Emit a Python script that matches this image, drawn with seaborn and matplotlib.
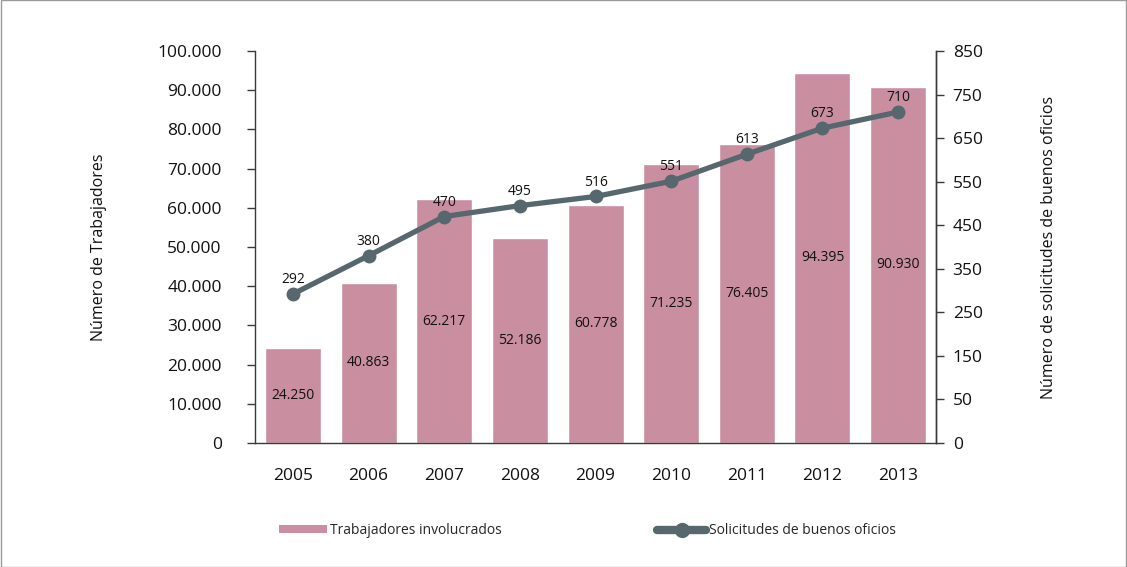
import numpy as np
import pandas as pd
import matplotlib
matplotlib.use("Agg")
import matplotlib.pyplot as plt
import seaborn as sns
from matplotlib.patches import Patch
from matplotlib.lines import Line2D

years = ["2005", "2006", "2007", "2008", "2009", "2010", "2011", "2012", "2013"]
trabajadores = [24250, 40863, 62217, 52186, 60778, 71235, 76405, 94395, 90930]
solicitudes = [292, 380, 470, 495, 516, 551, 613, 673, 710]
left_ticks = [0, 10000, 20000, 30000, 40000, 50000, 60000, 70000, 80000, 90000, 100000]
right_ticks = [-50, 50, 150, 250, 350, 450, 550, 650, 750, 850]
right_tick_labels = ["0", "50", "150", "250", "350", "450", "550", "650", "750", "850"]

bar_color = "#c98fa1"
line_color = "#56676e"
axis_color = "#3a3a3a"

sns.set_theme(style="white")
plt.rcParams["font.family"] = ["Open Sans", "DejaVu Sans"]

def fmt(v):
    return f"{v:,}".replace(",", ".")

df = pd.DataFrame({"year": years, "trab": trabajadores, "sol": solicitudes})

fig = plt.figure(figsize=(11.27, 5.67), dpi=100)
ax = fig.add_axes([0.2263, 0.2187, 0.8305 - 0.2263, 0.910 - 0.2187])

sns.barplot(data=df, x="year", y="trab", color=bar_color, saturation=1,
            width=0.74, ax=ax)
ax.set_xlim(-0.5, len(years) - 0.5)
ax.set_ylim(0, 100000)
ax.set_yticks(left_ticks)
ax.set_yticklabels([fmt(v) for v in left_ticks], fontsize=12.5, color="#111111")
ax.set_xlabel("")
ax.set_ylabel("Número de Trabajadores", fontsize=11.5, color="#111111", labelpad=36)
ax.tick_params(axis="x", which="major", length=0, labelsize=12.5, pad=18, labelcolor="#111111")
ax.set_xticks(np.arange(-0.5, len(years)), minor=True)
ax.tick_params(axis="x", which="minor", length=6, width=1, color=axis_color, direction="out")
ax.tick_params(axis="y", length=6, width=1, color=axis_color, direction="out", left=True, pad=18)

for i, v in enumerate(trabajadores):
    ax.text(i, v / 2, fmt(v), ha="center", va="center", fontsize=10, color="#111111")

for s in ["left", "bottom", "right"]:
    ax.spines[s].set_color(axis_color)
    ax.spines[s].set_linewidth(1)
ax.spines["top"].set_visible(False)

ax2 = ax.twinx()
sns.lineplot(x=np.arange(len(years)), y=solicitudes, ax=ax2, color=line_color,
             linewidth=3.8, marker="o", markersize=10, markeredgewidth=0)
ax2.set_ylim(-50, 850)
ax2.set_yticks(right_ticks)
ax2.set_yticklabels(right_tick_labels, fontsize=12.5, color="#111111")
ax2.tick_params(axis="y", length=6, width=1, color=axis_color, direction="out", right=True, pad=6)
ax2.set_ylabel("Número de solicitudes de buenos oficios", fontsize=11.5, color="#111111", labelpad=42)
ax2.spines["top"].set_visible(False)
ax2.spines["left"].set_visible(False)
ax2.spines["bottom"].set_visible(False)
ax2.spines["right"].set_color(axis_color)
ax2.spines["right"].set_linewidth(1)
ax2.set_xlim(-0.5, len(years) - 0.5)

for i, v in enumerate(solicitudes):
    ax2.annotate(str(v), (i, v), xytext=(0, 5), textcoords="offset points",
                 ha="center", va="bottom", fontsize=10, color="#111111")

handles = [Patch(facecolor=bar_color, edgecolor="none"),
           Line2D([0], [0], color=line_color, lw=6, marker="o", markersize=11, markeredgewidth=0)]
leg = fig.legend(handles, ["Trabajadores involucrados", "Solicitudes de buenos oficios"],
                 loc="center", bbox_to_anchor=(0.521, 0.064), ncol=2, frameon=False,
                 fontsize=10, handlelength=3.5, handleheight=0.55, handletextpad=0.2,
                 columnspacing=11.2)

fig.patches.append(plt.Rectangle((0.0005, 0.0005), 0.999, 0.999, transform=fig.transFigure,
                                 fill=False, edgecolor="#9a9a9a", linewidth=1))

fig.savefig("out.png", dpi=100)
